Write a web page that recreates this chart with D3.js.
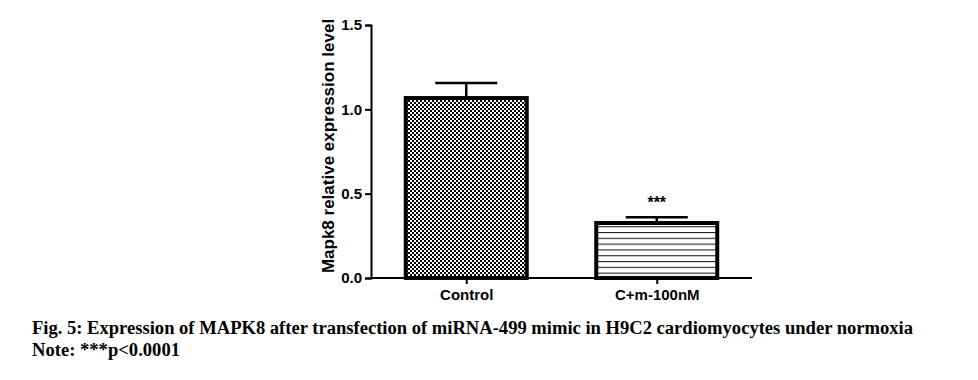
<!DOCTYPE html>
<html><head><meta charset="utf-8">
<script src="https://cdn.jsdelivr.net/npm/d3@7"></script>
<style>body{margin:0;background:#fff}svg{display:block}</style>
</head><body>
<script>
const categories = ["Control", "C+m-100nM"];
const means = [1.067, 0.326];
const errors = [0.089, 0.034];
const significance = ["", "***"];
const yTicks = [0.0, 0.5, 1.0, 1.5];
const yLabel = "Mapk8 relative expression level";
const caption1 = "Fig. 5: Expression of MAPK8 after transfection of miRNA-499 mimic in H9C2 cardiomyocytes under normoxia";
const caption2 = "Note: ***p<0.0001";

const W = 978, H = 380;
const svg = d3.select("body").append("svg").attr("width", W).attr("height", H);
const defs = svg.append("defs");
const chk = defs.append("pattern").attr("id","chk").attr("patternUnits","userSpaceOnUse").attr("width",4).attr("height",4);
chk.append("rect").attr("width",4).attr("height",4).attr("fill","#fff");
chk.append("rect").attr("width",2).attr("height",2).attr("fill","#000");
chk.append("rect").attr("x",2).attr("y",2).attr("width",2).attr("height",2).attr("fill","#000");
const hl = defs.append("pattern").attr("id","hl").attr("patternUnits","userSpaceOnUse").attr("width",8).attr("height",5.8);
hl.append("rect").attr("width",8).attr("height",5.8).attr("fill","#fff");
hl.append("line").attr("x1",0).attr("x2",8).attr("y1",0.5).attr("y2",0.5).attr("stroke","#222").attr("stroke-width",1.2);
const fills = ["url(#chk)", "url(#hl)"];

const x = d3.scalePoint().domain(categories).range([371, 752]).padding(0.5);
const y = d3.scaleLinear().domain([0, 1.5]).range([278, 25]);
const barW = 121;
const sans = "Liberation Sans, Arial, sans-serif";

const g = svg.append("g");
g.selectAll("rect.bar").data(categories).enter().append("rect")
  .attr("x", d => x(d) - barW/2).attr("width", barW)
  .attr("y", (d,i) => y(means[i])).attr("height", (d,i) => y(0) - y(means[i]))
  .attr("fill", (d,i) => fills[i]).attr("stroke", "#000").attr("stroke-width", 4);
categories.forEach((c,i) => {
  const top = y(means[i] + errors[i]);
  g.append("line").attr("x1", x(c)).attr("x2", x(c)).attr("y1", y(means[i]) - 2).attr("y2", top)
    .attr("stroke","#000").attr("stroke-width",2.5);
  g.append("line").attr("x1", x(c)-31).attr("x2", x(c)+31).attr("y1", top).attr("y2", top)
    .attr("stroke","#000").attr("stroke-width",2.5);
  if (significance[i]) {
    g.append("text").attr("x", x(c)).attr("y", top - 9).attr("text-anchor","middle")
      .attr("font-family",sans).attr("font-weight","bold").attr("font-size",16)
      .text(significance[i]);
  }
});

const yAxis = svg.append("g").attr("transform","translate(371,0)")
  .call(d3.axisLeft(y).tickValues(yTicks).tickFormat(d3.format(".1f")).tickSize(6).tickPadding(3));
const xAxis = svg.append("g").attr("transform","translate(0,278)")
  .call(d3.axisBottom(x).tickSize(6).tickPadding(5));
xAxis.select(".domain").attr("d","M371,0H752");
[yAxis, xAxis].forEach(a => {
  a.select(".domain").attr("stroke","#000").attr("stroke-width",2);
  a.selectAll(".tick line").attr("stroke","#000").attr("stroke-width",2);
  a.selectAll("text").attr("font-family",sans).attr("font-weight","bold")
    .attr("font-size",15).attr("fill","#000");
});

svg.append("text").attr("transform","translate(334,146) rotate(-90)").attr("text-anchor","middle")
  .attr("font-family",sans).attr("font-weight","bold").attr("font-size",17)
  .text(yLabel);

svg.append("text").attr("x",32).attr("y",334).attr("font-family","Liberation Serif, Times New Roman, serif")
  .attr("font-weight","bold").attr("font-size",18.6).attr("textLength",881).text(caption1);
svg.append("text").attr("x",32).attr("y",356).attr("font-family","Liberation Serif, Times New Roman, serif")
  .attr("font-weight","bold").attr("font-size",18.6).text(caption2);
</script>
</body></html>
